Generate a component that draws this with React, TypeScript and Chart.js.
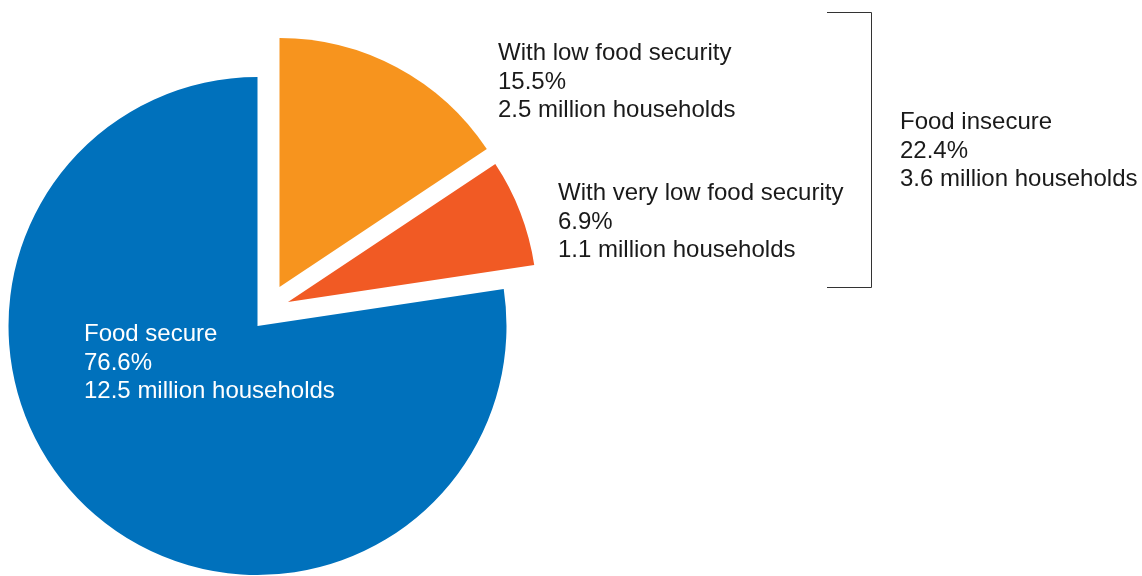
import React, { useEffect, useRef } from "react";
import { Chart, registerables } from "chart.js";

Chart.register(...registerables);

// ---- data ----
const categories = ["With low food security", "With very low food security", "Food secure"];
const sharePercent = [15.5, 6.9, 76.6];
const millionHouseholds = [2.5, 1.1, 12.5];
const groupLabel = "Food insecure";
const groupShare = 22.4;
const groupHouseholds = 3.6;

// ---- styles ----
const sliceColors = ["#F7941E", "#F15A24", "#0071BC"];
const labelColors = ["#1a1a1a", "#1a1a1a", "#ffffff"];
const explodeDistance = [44.8, 38.8, 0];
const explodeAngleDeg = [29.4, 51.8, 0];
const labelAnchors = [
  { x: 498, y: 60 },
  { x: 558, y: 200 },
  { x: 84, y: 341 },
];
const groupAnchor = { x: 900, y: 129 };
const bracket = { x: 871, top: 12, bottom: 287, tick: 44 };
const FONT = '24px "Liberation Sans", Arial, Helvetica, sans-serif';
const LINE = 28.5;

const explodePlugin = {
  id: "explode",
  afterDatasetUpdate(chart: any, args: any) {
    const meta = chart.getDatasetMeta(args.index);
    meta.data.forEach((arc: any, i: number) => {
      const a = (explodeAngleDeg[i] * Math.PI) / 180;
      arc.x += Math.sin(a) * explodeDistance[i];
      arc.y -= Math.cos(a) * explodeDistance[i];
    });
  },
};

const labelPlugin = {
  id: "labels",
  afterDraw(chart: any) {
    const ctx = chart.ctx;
    ctx.save();
    ctx.font = FONT;
    ctx.textAlign = "left";
    ctx.textBaseline = "alphabetic";
    categories.forEach((c, i) => {
      const p = labelAnchors[i];
      ctx.fillStyle = labelColors[i];
      ctx.fillText(c, p.x, p.y);
      ctx.fillText(`${sharePercent[i].toFixed(1)}%`, p.x, p.y + LINE);
      ctx.fillText(`${millionHouseholds[i].toFixed(1)} million households`, p.x, p.y + 2 * LINE);
    });
    ctx.fillStyle = "#1a1a1a";
    ctx.fillText(groupLabel, groupAnchor.x, groupAnchor.y);
    ctx.fillText(`${groupShare.toFixed(1)}%`, groupAnchor.x, groupAnchor.y + LINE);
    ctx.fillText(`${groupHouseholds.toFixed(1)} million households`, groupAnchor.x, groupAnchor.y + 2 * LINE);

    ctx.strokeStyle = "#333333";
    ctx.lineWidth = 1;
    ctx.beginPath();
    ctx.moveTo(bracket.x - bracket.tick, bracket.top + 0.5);
    ctx.lineTo(bracket.x + 0.5, bracket.top + 0.5);
    ctx.lineTo(bracket.x + 0.5, bracket.bottom + 0.5);
    ctx.lineTo(bracket.x - bracket.tick, bracket.bottom + 0.5);
    ctx.stroke();
    ctx.restore();
  },
};

export default function App() {
  const ref = useRef<HTMLCanvasElement>(null);
  useEffect(() => {
    if (!ref.current) return;
    const chart = new Chart(ref.current, {
      type: "pie",
      data: {
        labels: categories,
        datasets: [
          {
            data: sharePercent,
            backgroundColor: sliceColors,
            borderWidth: 0,
            clip: false,
          } as any,
        ],
      },
      options: {
        animation: false,
        responsive: false,
        radius: 249,
        layout: { padding: { left: 0, top: 76, right: 627, bottom: 0 } },
        plugins: { legend: { display: false }, tooltip: { enabled: false } },
      } as any,
      plugins: [explodePlugin, labelPlugin],
    });
    return () => chart.destroy();
  }, []);
  return (
    <div style={{ position: "absolute", left: 0, top: 0, width: 1142, height: 576, background: "#fff" }}>
      <canvas ref={ref} width={1142} height={576} style={{ display: "block" }} />
    </div>
  );
}
